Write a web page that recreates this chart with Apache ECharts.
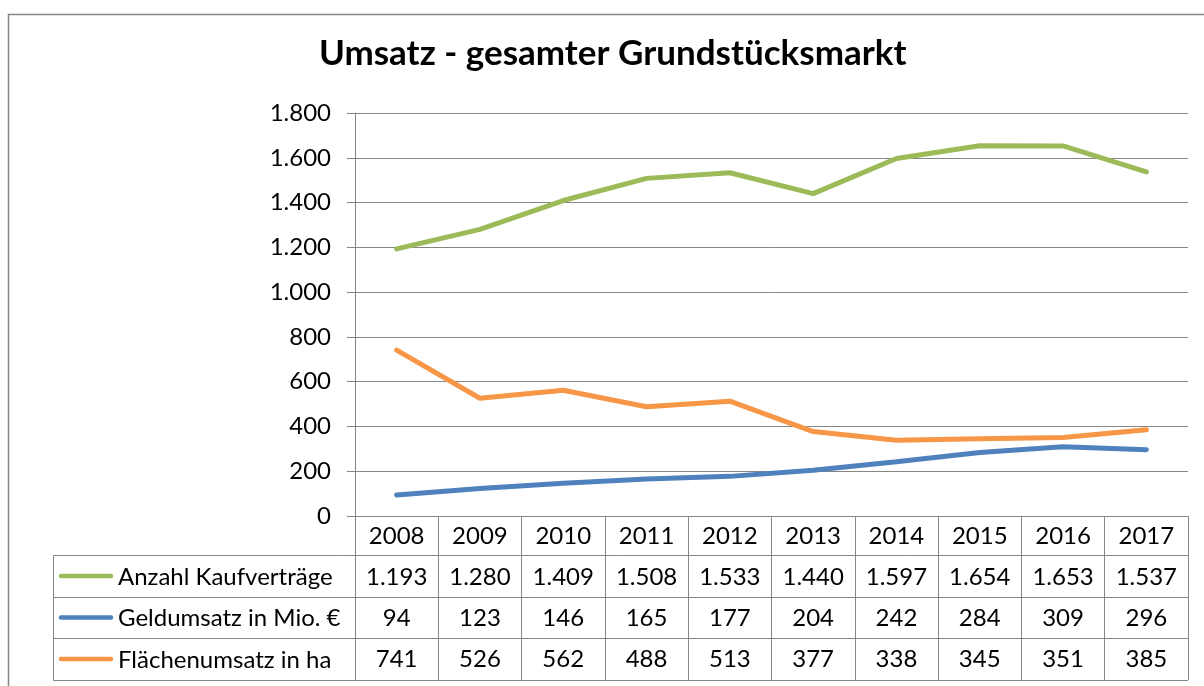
<!DOCTYPE html>
<html>
<head>
<meta charset="utf-8">
<script src="https://cdn.jsdelivr.net/npm/echarts@6/dist/echarts.min.js"></script>
<style>
  html, body { margin: 0; padding: 0; background: #fff; }
  #main { width: 1204px; height: 686px; }
</style>
</head>
<body>
<div id="main"></div>
<script>
// Daten
var years = ['2008', '2009', '2010', '2011', '2012', '2013', '2014', '2015', '2016', '2017'];
var seriesNames = ['Anzahl Kaufverträge', 'Geldumsatz in Mio. €', 'Flächenumsatz in ha'];
var kaufvertraege = [1193, 1280, 1409, 1508, 1533, 1440, 1597, 1654, 1653, 1537];
var geldumsatz = [94, 123, 146, 165, 177, 204, 242, 284, 309, 296];
var flaechenumsatz = [741, 526, 562, 488, 513, 377, 338, 345, 351, 385];
var seriesColors = ['#9bbb59', '#4f81bd', '#f79646'];

var fontName = 'Lato';
var fontSize = 24;
var gridColor = '#868686';

// deutsches Zahlenformat (1.800)
function fmt(v) {
    return String(v).replace(/\B(?=(\d{3})+(?!\d))/g, '.');
}

var plotLeft = 355, plotRight = 1188, plotTop = 113, plotBottom = 516;
var rowH = [39, 42, 41, 42];   // Zeilen der Datentabelle
var tableLeft = 53;

var myChart = echarts.init(document.getElementById('main'));

// Zeilen der Tabelle als eigene x-Achsen
var rowData = [kaufvertraege, geldumsatz, flaechenumsatz];
var xAxes = [{
    type: 'category',
    data: years,
    position: 'bottom',
    axisLine: { lineStyle: { color: gridColor, width: 1 } },
    axisTick: { show: true, length: 164, lineStyle: { color: gridColor, width: 1 } },
    axisLabel: { color: '#000', fontSize: fontSize, fontFamily: fontName, margin: 20, verticalAlign: 'middle', interval: 0 }
}];
var offs = [41, 82, 123];
for (var i = 0; i < rowData.length; i++) {
    xAxes.push({
        type: 'category',
        data: rowData[i].map(fmt),
        position: 'bottom',
        offset: offs[i],
        axisLine: { show: false },
        axisTick: { show: false },
        axisLabel: { color: '#000', fontSize: fontSize, fontFamily: fontName, margin: 20, verticalAlign: 'middle', interval: 0 }
    });
}

// Tabellenrahmen und Legende links
var graphics = [{
    type: 'rect',
    shape: { x: 8.5, y: 14.5, width: 1400, height: 900 },
    style: { fill: null, stroke: gridColor, lineWidth: 1.5 },
    silent: true
}];
var y = plotBottom + rowH[0];
var rowTops = [];
for (var r = 1; r < rowH.length; r++) {
    rowTops.push(y);
    graphics.push({
        type: 'line',
        shape: { x1: tableLeft, y1: y + 0.5, x2: plotRight, y2: y + 0.5 },
        style: { stroke: gridColor, lineWidth: 1 }
    });
    y += rowH[r];
}
graphics.push({
    type: 'line',
    shape: { x1: tableLeft, y1: y + 0.5, x2: plotRight, y2: y + 0.5 },
    style: { stroke: gridColor, lineWidth: 1 }
});
graphics.push({
    type: 'line',
    shape: { x1: tableLeft + 0.5, y1: rowTops[0], x2: tableLeft + 0.5, y2: y },
    style: { stroke: gridColor, lineWidth: 1 }
});
for (var k = 0; k < seriesNames.length; k++) {
    var cy = rowTops[k] + rowH[k + 1] / 2;
    graphics.push({
        type: 'line',
        shape: { x1: 61, y1: cy, x2: 111, y2: cy },
        style: { stroke: seriesColors[k], lineWidth: 4.5, lineCap: 'round' }
    });
    graphics.push({
        type: 'text',
        x: 118, y: cy + 1,
        style: { text: seriesNames[k], fill: '#000', fontSize: fontSize, fontFamily: fontName, verticalAlign: 'middle', align: 'left' }
    });
}

var option = {
    backgroundColor: '#fff',
    animation: false,
    title: {
        text: 'Umsatz - gesamter Grundstücksmarkt',
        left: 319,
        top: 36,
        padding: 0,
        textStyle: { fontSize: 35, fontWeight: 'bold', color: '#000', fontFamily: fontName }
    },
    grid: {
        left: plotLeft,
        right: 1204 - plotRight,
        top: plotTop,
        bottom: 686 - plotBottom
    },
    xAxis: xAxes,
    yAxis: {
        type: 'value',
        min: 0,
        max: 1800,
        interval: 200,
        axisLine: { show: true, lineStyle: { color: gridColor, width: 1 } },
        axisTick: { show: true, length: 8, lineStyle: { color: gridColor } },
        axisLabel: { color: '#000', fontSize: fontSize, fontFamily: fontName, margin: 24, formatter: fmt },
        splitLine: { lineStyle: { color: gridColor, width: 1 } }
    },
    series: [
        {
            name: seriesNames[0], type: 'line', data: kaufvertraege, showSymbol: false,
            lineStyle: { color: seriesColors[0], width: 5, cap: 'round' }
        },
        {
            name: seriesNames[1], type: 'line', data: geldumsatz, showSymbol: false,
            lineStyle: { color: seriesColors[1], width: 5, cap: 'round' }
        },
        {
            name: seriesNames[2], type: 'line', data: flaechenumsatz, showSymbol: false,
            lineStyle: { color: seriesColors[2], width: 5, cap: 'round' }
        }
    ],
    graphic: graphics
};
myChart.setOption(option);
</script>
</body>
</html>
